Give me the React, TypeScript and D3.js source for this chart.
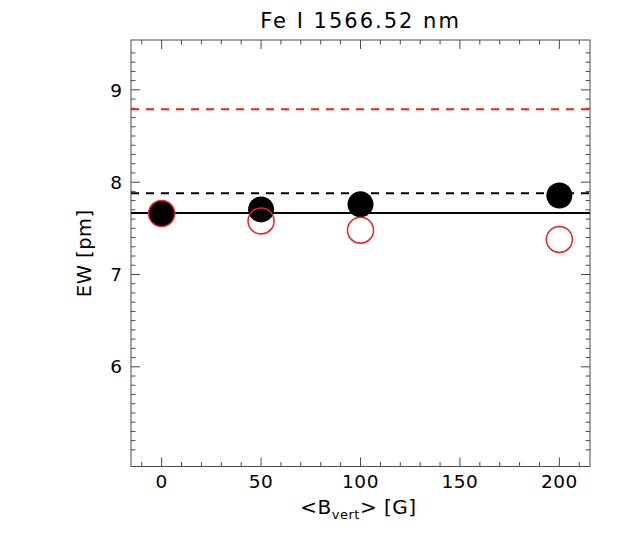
import * as d3 from 'd3'

// Fe I 1566.52 nm: equivalent width vs mean vertical field
const B_VERT = [0, 50, 100, 200]
const EW_FILLED = [7.66, 7.705, 7.76, 7.855]
const EW_OPEN = [7.66, 7.58, 7.48, 7.38]

// horizontal reference levels
const EW_SOLID = 7.665
const EW_DASH_BLACK = 7.88
const EW_DASH_RED = 8.79

const X_DOMAIN = [-15.4, 215.4]
const Y_DOMAIN = [4.92, 9.54]
const X_MAJOR = [0, 50, 100, 150, 200]
const X_MINOR = d3.range(-10, 211, 10).filter(v => v % 50 !== 0)
const Y_MAJOR = [6, 7, 8, 9]
const Y_MINOR = d3.range(51, 95).filter(v => v % 10 !== 0).map(v => v / 10)

const W = 629
const H = 550
const margin = { left: 131, right: 39, top: 40, bottom: 83.5 }
const RED = '#e8202a'
const AXIS = '#4a4a4a'
const FONT = '"DejaVu Sans", sans-serif'

export default function App() {
  const x = d3.scaleLinear().domain(X_DOMAIN).range([margin.left, W - margin.right])
  const y = d3.scaleLinear().domain(Y_DOMAIN).range([H - margin.bottom, margin.top])
  const [x0, x1] = x.range()
  const [yb, yt] = y.range()
  const cx = (x0 + x1) / 2
  const cy = (yb + yt) / 2
  const majorLen = 9
  const minorLen = 4.5

  return (
    <svg width={W} height={H} style={{ position: 'absolute', left: 0, top: 0, background: '#fff' }}
      fontFamily={FONT}>
      {/* title */}
      <text x={cx} y={28} textAnchor="middle" fontSize={21} letterSpacing={2}>Fe I 1566.52 nm</text>

      {/* frame */}
      <rect x={x0} y={yt} width={x1 - x0} height={yb - yt} fill="none" stroke={AXIS} strokeWidth={1} />

      {/* x ticks, bottom and top, pointing inward */}
      {X_MAJOR.map(v => (
        <g key={'xM' + v} stroke={AXIS}>
          <line x1={x(v)} x2={x(v)} y1={yb} y2={yb - majorLen} />
          <line x1={x(v)} x2={x(v)} y1={yt} y2={yt + majorLen} />
        </g>
      ))}
      {X_MINOR.map(v => (
        <g key={'xm' + v} stroke={AXIS}>
          <line x1={x(v)} x2={x(v)} y1={yb} y2={yb - minorLen} />
          <line x1={x(v)} x2={x(v)} y1={yt} y2={yt + minorLen} />
        </g>
      ))}
      {X_MAJOR.map(v => (
        <text key={'xl' + v} x={x(v)} y={488} textAnchor="middle" fontSize={18.5} letterSpacing={0.5}>{v}</text>
      ))}

      {/* y ticks, left and right */}
      {Y_MAJOR.map(v => (
        <g key={'yM' + v} stroke={AXIS}>
          <line x1={x0} x2={x0 + majorLen} y1={y(v)} y2={y(v)} />
          <line x1={x1} x2={x1 - majorLen} y1={y(v)} y2={y(v)} />
        </g>
      ))}
      {Y_MINOR.map(v => (
        <g key={'ym' + v} stroke={AXIS}>
          <line x1={x0} x2={x0 + minorLen} y1={y(v)} y2={y(v)} />
          <line x1={x1} x2={x1 - minorLen} y1={y(v)} y2={y(v)} />
        </g>
      ))}
      {Y_MAJOR.map(v => (
        <text key={'yl' + v} x={x0 - 9} y={y(v)} dy="0.36em" textAnchor="end" fontSize={18.5}>{v}</text>
      ))}

      {/* axis titles */}
      <text x={cx - 2} y={514} textAnchor="middle" fontSize={20} letterSpacing={0.5}>
        {'<B'}<tspan fontSize={13} dy={5}>vert</tspan><tspan dy={-5}>{'> [G]'}</tspan>
      </text>
      <text transform={`translate(91,${cy}) rotate(-90)`} textAnchor="middle" fontSize={19.5} letterSpacing={0.5}>
        EW [pm]
      </text>

      {/* reference lines */}
      <line x1={x0} x2={x1} y1={y(EW_DASH_RED)} y2={y(EW_DASH_RED)} stroke={RED} strokeWidth={2} strokeDasharray="8,7" />
      <line x1={x0} x2={x1} y1={y(EW_DASH_BLACK)} y2={y(EW_DASH_BLACK)} stroke="#000" strokeWidth={2} strokeDasharray="8,7" />
      <line x1={x0} x2={x1} y1={y(EW_SOLID)} y2={y(EW_SOLID)} stroke="#000" strokeWidth={2} />

      {/* points */}
      {B_VERT.map((b, i) => (
        <circle key={'f' + b} cx={x(b)} cy={y(EW_FILLED[i])} r={13} fill="#000" />
      ))}
      {B_VERT.map((b, i) => (
        <circle key={'o' + b} cx={x(b)} cy={y(EW_OPEN[i])} r={13} fill="none" stroke={RED} strokeWidth={1.5} />
      ))}
    </svg>
  )
}
